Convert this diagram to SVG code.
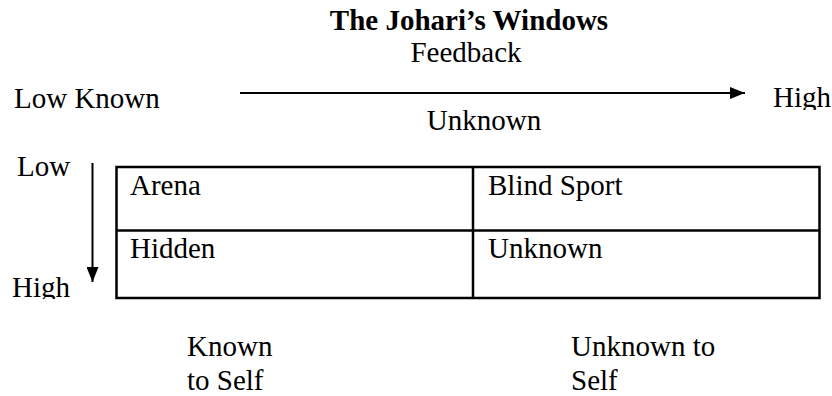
<svg xmlns="http://www.w3.org/2000/svg" width="832" height="396" viewBox="0 0 832 396">
  <style>
    text { font-family: "Liberation Serif", "Times New Roman", serif; font-size: 29px; fill: #000; }
    .title { font-weight: bold; }
    .mid { text-anchor: middle; }
    .axis { stroke: #000; stroke-width: 2; fill: none; }
    .grid { stroke: #000; stroke-width: 2.5; fill: none; }
  </style>
  <defs>
    <marker id="head" viewBox="0 0 15 12" refX="15" refY="6" markerWidth="15" markerHeight="12" markerUnits="userSpaceOnUse" orient="auto">
      <path d="M0,0 L15,6 L0,12 Z" fill="#000"/>
    </marker>
    <!-- text boxes that cut off descenders -->
    <clipPath id="clipHighRight"><rect x="760" y="80" width="72" height="30"/></clipPath>
    <clipPath id="clipHighLeft"><rect x="0" y="270" width="90" height="29"/></clipPath>
  </defs>

  <!-- headings -->
  <g id="title">
    <text class="title mid" x="469" y="30">The Johari’s Windows</text>
    <text class="mid" x="466" y="62">Feedback</text>
  </g>

  <!-- horizontal scale -->
  <g id="axis-x-labels">
    <text x="14" y="108">Low Known</text>
    <text x="773" y="107" clip-path="url(#clipHighRight)">High</text>
    <text class="mid" x="484" y="130">Unknown</text>
  </g>

  <!-- vertical scale -->
  <g id="axis-y-labels">
    <text x="17" y="176">Low</text>
    <text x="12" y="297" clip-path="url(#clipHighLeft)">High</text>
  </g>

  <!-- connectors -->
  <g id="connectors">
    <line class="axis" x1="240" y1="93" x2="745" y2="93" marker-end="url(#head)"/>
    <line class="axis" x1="92.5" y1="163" x2="92.5" y2="282" marker-end="url(#head)"/>
  </g>

  <!-- window grid -->
  <g id="window-grid">
    <rect class="grid" x="116.5" y="167" width="703" height="131"/>
    <line class="grid" x1="116.5" y1="230.5" x2="819.5" y2="230.5"/>
    <line class="grid" x1="473" y1="167" x2="473" y2="298"/>
  </g>

  <g id="arena"><text x="130" y="195">Arena</text></g>
  <g id="blind-spot"><text x="488" y="195">Blind Sport</text></g>
  <g id="hidden"><text x="130" y="258">Hidden</text></g>
  <g id="unknown"><text x="488" y="258">Unknown</text></g>

  <!-- column captions -->
  <g id="known-to-self">
    <text x="187" y="356">Known</text>
    <text x="187" y="390">to Self</text>
  </g>
  <g id="unknown-to-self">
    <text x="571" y="356">Unknown to</text>
    <text x="571" y="390">Self</text>
  </g>
</svg>
